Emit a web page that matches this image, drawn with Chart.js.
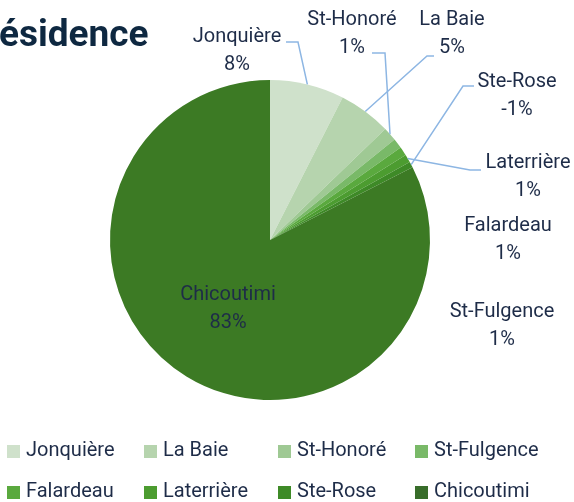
<!DOCTYPE html>
<html lang="fr">
<head>
  <meta charset="UTF-8" />
  <title>Résidence</title>
  <script src="https://cdn.jsdelivr.net/npm/chart.js"></script>
  <style>
    html, body { margin: 0; padding: 0; background: #fff; }
    #wrap { width: 574px; height: 502px; position: relative; }
  </style>
</head>
<body>
  <div id="wrap"><canvas id="graphique"></canvas></div>

  <script>
    // données (ordre horaire depuis le haut)
    const lieux = ['Jonquière', 'La Baie', 'St-Honoré', 'St-Fulgence', 'Falardeau', 'Laterrière', 'Ste-Rose', 'Chicoutimi'];
    const pourcentages = [7.5, 5.3, 1.4, 1.0, 0.9, 0.8, -0.6, 82.5];
    const couleurs = ['#cfe1cb', '#b6d4ae', '#9fc994', '#79b968', '#5aa93e', '#4c9c30', '#3e8a27', '#3c7a24'];
    const couleursLegende = ['#cfe1cb', '#b6d4ae', '#9fc994', '#79b968', '#5aa93e', '#4c9c30', '#3e8a27', '#386d2a'];

    const couleurTexte = '#1e2c48';
    const couleurLigne = '#8db6e3';
    const police = '20px Roboto, "Liberation Sans", sans-serif';

    // placement des étiquettes (centre du texte) et des lignes de rappel
    const etiquettes = {
      'Jonquière':   { x: 237, y: 37, depart: [286, 42], coude: [298, 42] },
      'La Baie':     { x: 452, y: 20, depart: [434, 56], coude: [427, 56] },
      'St-Honoré':   { x: 352, y: 20, depart: [372, 53], coude: [385, 53] },
      'St-Fulgence': { x: 502, y: 312 },
      'Falardeau':   { x: 508, y: 226 },
      'Laterrière':  { x: 528, y: 163, depart: [481, 170], coude: [470, 170] },
      'Ste-Rose':    { x: 517, y: 82, depart: [474, 86], coude: [463, 86] },
      'Chicoutimi':  { x: 228, y: 295 }
    };

    // titre coupé à gauche comme sur l'image
    const titre = {
      id: 'titre',
      afterDraw(chart) {
        const ctx = chart.ctx;
        ctx.save();
        ctx.font = 'bold 37px Roboto, "Liberation Sans", sans-serif';
        ctx.fillStyle = '#0e2841';
        ctx.textBaseline = 'alphabetic';
        ctx.textAlign = 'left';
        ctx.fillText('ésidence', -1, 46);
        ctx.restore();
      }
    };

    // étiquettes de données avec lignes de rappel
    const etiquettesDonnees = {
      id: 'etiquettesDonnees',
      afterDatasetsDraw(chart) {
        const ctx = chart.ctx;
        const arcs = chart.getDatasetMeta(0).data;
        ctx.save();
        ctx.font = police;
        ctx.textAlign = 'center';
        ctx.textBaseline = 'middle';
        arcs.forEach((arc, i) => {
          const e = etiquettes[lieux[i]];
          if (!e) return;
          if (e.depart) {
            const mid = (arc.startAngle + arc.endAngle) / 2;
            const px = arc.x + Math.cos(mid) * arc.outerRadius;
            const py = arc.y + Math.sin(mid) * arc.outerRadius;
            ctx.strokeStyle = couleurLigne;
            ctx.lineWidth = 1.5;
            ctx.beginPath();
            ctx.moveTo(e.depart[0], e.depart[1]);
            ctx.lineTo(e.coude[0], e.coude[1]);
            ctx.lineTo(px, py);
            ctx.stroke();
          }
          ctx.fillStyle = couleurTexte;
          ctx.fillText(lieux[i], e.x, e.y);
          ctx.fillText(Math.round(pourcentages[i]) + '%', e.x, e.y + 28);
        });
        ctx.restore();
      }
    };

    // légende en grille 4 colonnes
    const legendeGrille = {
      id: 'legendeGrille',
      afterDraw(chart) {
        const ctx = chart.ctx;
        const colonnes = [7, 144, 278, 415];
        const lignes = [451, 492];
        ctx.save();
        ctx.font = police;
        ctx.textAlign = 'left';
        ctx.textBaseline = 'middle';
        lieux.forEach((nom, i) => {
          const x = colonnes[i % 4];
          const y = lignes[Math.floor(i / 4)];
          ctx.fillStyle = couleursLegende[i];
          ctx.fillRect(x, y - 6, 13, 13);
          ctx.fillStyle = couleurTexte;
          ctx.fillText(nom, x + 19, y);
        });
        ctx.restore();
      }
    };

    new Chart(document.getElementById('graphique'), {
      type: 'pie',
      data: {
        labels: lieux,
        datasets: [{
          data: pourcentages,
          backgroundColor: couleurs,
          borderWidth: 0
        }]
      },
      options: {
        responsive: true,
        maintainAspectRatio: false,
        animation: false,
        layout: { padding: { left: 110, right: 144, top: 80, bottom: 102 } },
        plugins: {
          legend: { display: false },
          tooltip: { enabled: false }
        }
      },
      plugins: [titre, etiquettesDonnees, legendeGrille]
    });
  </script>
</body>
</html>
